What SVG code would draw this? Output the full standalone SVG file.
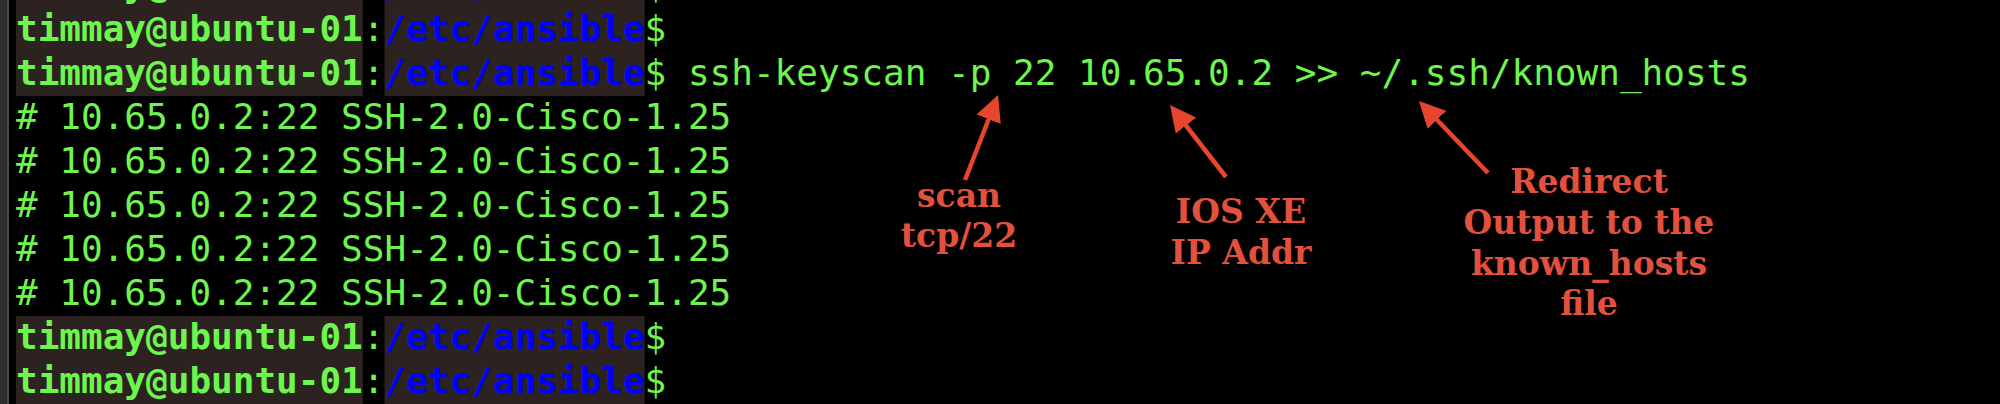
<svg xmlns="http://www.w3.org/2000/svg" width="2000" height="404" viewBox="0 0 2000 404">
<defs>
<style>
.t{font-family:"DejaVu Sans Mono","Liberation Mono",monospace;font-size:36px;fill:#6ef54e}
.b{font-weight:bold}
.p{fill:#0000ff;font-weight:bold}
.band{fill:#2c2320}
.lbl{font-family:"DejaVu Serif","Liberation Serif",serif;font-weight:bold;font-size:33px;fill:#e2503e;text-anchor:middle}
.arr{stroke:#e8452e;stroke-width:4.5;fill:none;marker-end:url(#ah)}
</style>
<marker id="ah" viewBox="0 0 26 26" markerWidth="26" markerHeight="26" markerUnits="userSpaceOnUse" refX="14" refY="13" orient="auto">
<path d="M0,0 L26,13 L0,26 Z" fill="#e8452e"/>
</marker>
</defs>
<rect x="0" y="0" width="2000" height="404" fill="#000000"/>
<rect x="0" y="0" width="7" height="404" fill="#2e2e2e"/>
<rect x="7" y="0" width="2" height="404" fill="#4a4a4a"/>
<g id="terminal">
<rect class="band" x="16" y="0" width="346.8" height="96"/>
<rect class="band" x="384.5" y="0" width="260.1" height="96"/>
<rect class="band" x="16" y="316" width="346.8" height="88"/>
<rect class="band" x="384.5" y="316" width="260.1" height="88"/>
<text class="t" x="16" y="-3"><tspan class="b">timmay@ubuntu-01</tspan>:<tspan class="p">/etc/ansible</tspan>$</text>
<text class="t" x="16" y="41"><tspan class="b">timmay@ubuntu-01</tspan>:<tspan class="p">/etc/ansible</tspan>$</text>
<text class="t" x="16" y="85"><tspan class="b">timmay@ubuntu-01</tspan>:<tspan class="p">/etc/ansible</tspan>$ ssh-keyscan -p 22 10.65.0.2 &gt;&gt; ~/.ssh/known_hosts</text>
<text class="t" x="16" y="129"># 10.65.0.2:22 SSH-2.0-Cisco-1.25</text>
<text class="t" x="16" y="173"># 10.65.0.2:22 SSH-2.0-Cisco-1.25</text>
<text class="t" x="16" y="217"># 10.65.0.2:22 SSH-2.0-Cisco-1.25</text>
<text class="t" x="16" y="261"># 10.65.0.2:22 SSH-2.0-Cisco-1.25</text>
<text class="t" x="16" y="305"># 10.65.0.2:22 SSH-2.0-Cisco-1.25</text>
<text class="t" x="16" y="349"><tspan class="b">timmay@ubuntu-01</tspan>:<tspan class="p">/etc/ansible</tspan>$</text>
<text class="t" x="16" y="393"><tspan class="b">timmay@ubuntu-01</tspan>:<tspan class="p">/etc/ansible</tspan>$</text>
</g>
<g id="connectors">
<path class="arr" d="M965,180 L993.7,106.2"/>
<path class="arr" d="M1226,177 L1177.4,114.5"/>
<path class="arr" d="M1488,173 L1427.3,109.7"/>
</g>
<g id="label-scan">
<text class="lbl" x="959" y="207">scan</text>
<text class="lbl" x="959" y="247">tcp/22</text>
</g>
<g id="label-ios">
<text class="lbl" x="1241" y="223">IOS XE</text>
<text class="lbl" x="1241" y="264">IP Addr</text>
</g>
<g id="label-redirect">
<text class="lbl" x="1589" y="193">Redirect</text>
<text class="lbl" x="1589" y="234">Output to the</text>
<text class="lbl" x="1589" y="275">known_hosts</text>
<text class="lbl" x="1589" y="315">file</text>
</g>
</svg>
